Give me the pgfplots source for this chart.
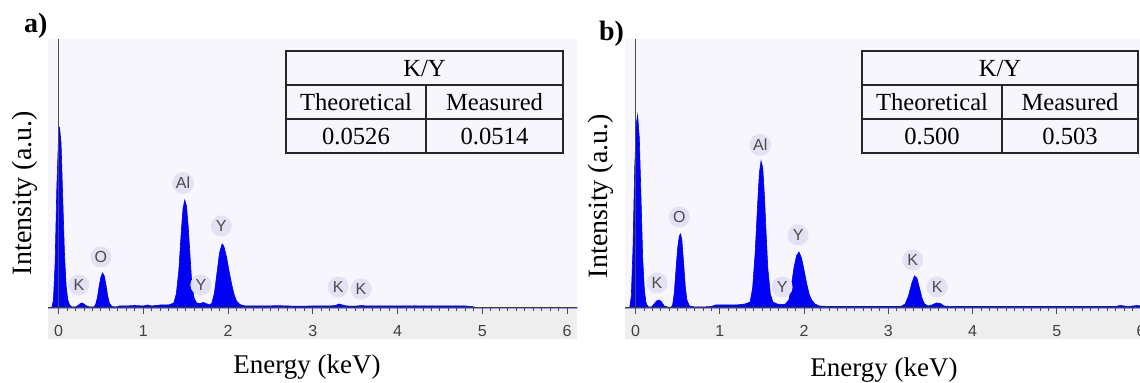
\documentclass[border=0pt]{standalone}
\usepackage{pgfplots}
\pgfplotsset{compat=1.18}
\usepackage{fontspec}
\setmainfont{Liberation Serif}
\newfontfamily\sansf{Liberation Sans}
\definecolor{bgcol}{RGB}{246,246,252}
\definecolor{stripcol}{RGB}{238,238,238}
\definecolor{specblue}{RGB}{0,0,245}
\definecolor{lblbg}{RGB}{226,226,244}
\definecolor{lbltext}{RGB}{75,75,75}

\pgfplotstableread{
x y
-0.124 0
-0.08 0
-0.06 8
-0.04 45
-0.02 120
0.00 170
0.012 181
0.03 165
0.05 110
0.07 55
0.09 22
0.11 8
0.13 3
0.16 1
0.20 1
0.23 2.5
0.26 4.5
0.28 5
0.30 4
0.33 2
0.37 1
0.42 1
0.44 4
0.46 11
0.48 22
0.50 31
0.52 35
0.54 32
0.56 23
0.58 12
0.60 5
0.63 1.5
0.68 1
0.72 2
0.80 2
0.90 2.5
1.00 2
1.05 3
1.10 2
1.20 3
1.30 3
1.36 5
1.39 14
1.42 38
1.45 78
1.47 100
1.49 108
1.51 102
1.53 82
1.55 55
1.57 28
1.60 10
1.63 5
1.67 4.5
1.71 5.5
1.74 4.5
1.78 3
1.81 5
1.84 15
1.87 35
1.90 55
1.93 64
1.95 62
1.98 52
2.01 38
2.04 25
2.07 14
2.10 7
2.14 3.5
2.20 2
2.40 2
2.60 2.3
2.80 1.8
3.00 2
3.20 2
3.27 2.5
3.31 4
3.35 3
3.40 2
3.50 1.8
3.58 2.5
3.62 2
3.80 2
4.00 2
4.20 2.2
4.40 2
4.60 2
4.80 2
4.88 1.5
4.92 0.5
6.118 0.5
}\specA

\pgfplotstableread{
x y
-0.125 0
-0.07 0
-0.05 12
-0.03 60
-0.01 140
0.01 185
0.025 193
0.045 170
0.065 110
0.085 50
0.105 18
0.125 5
0.15 1
0.19 1
0.22 4
0.25 7
0.28 8
0.31 6
0.34 2
0.38 1
0.42 0.5
0.44 3
0.46 15
0.48 38
0.50 60
0.52 72
0.535 74
0.55 68
0.57 46
0.59 22
0.61 8
0.64 2
0.70 1
0.80 1
0.90 1.5
0.95 3
1.20 3
1.30 4
1.36 6
1.39 20
1.42 55
1.45 105
1.47 135
1.49 147
1.51 140
1.53 112
1.55 75
1.57 40
1.60 14
1.63 6
1.68 4
1.74 3.5
1.78 4
1.82 8
1.85 22
1.88 40
1.91 52
1.94 56
1.97 50
2.00 38
2.03 25
2.06 14
2.09 8
2.13 4
2.18 2
2.30 1.5
2.60 1.5
3.00 1.5
3.15 1.5
3.20 4
3.24 12
3.28 25
3.31 32
3.34 30
3.37 20
3.40 10
3.43 4
3.47 2
3.52 3
3.57 5
3.62 4.5
3.66 2
3.75 1.5
4.50 1.5
5.50 1.5
5.70 1.5
5.75 2.5
5.85 1.5
5.95 2.5
6.0 2
}\specB

\tikzset{pk/.style={circle, fill=lblbg, inner sep=0.6pt, minimum size=10.5pt, font=\sansf\fontsize{8}{9}\selectfont, text=lbltext}}

\pgfplotsset{eds/.style={
  scale only axis, height=134.5pt,
  ymin=0, ymax=269,
  axis x line*=bottom, axis y line=none,
  axis line style={draw=black!75, line width=0.5pt},
  axis background/.style={fill=bgcol},
  xtick={0,1,2,3,4,5,6}, minor x tick num=9,
  tick align=outside, major tick length=3pt, minor tick length=1.6pt,
  every tick/.style={draw=black!70, line width=0.4pt},
  xticklabel style={font=\sansf\fontsize{8}{9}\selectfont, text=black!75, yshift=-2pt},
  /pgf/number format/assume math mode=true,
  clip=false, axis on top,
  anchor=south west,
}}

\begin{document}
\begin{tikzpicture}
\useasboundingbox (0,0) rectangle (570pt,191.5pt);

% ---------- panel a ----------
\begin{axis}[eds, at={(24pt,37.5pt)}, width=264.5pt, xmin=-0.124, xmax=6.118]
\fill[stripcol] (rel axis cs:0,0) rectangle ([yshift=-15.5pt]rel axis cs:1,0);
\addplot[draw=specblue, fill=specblue, line width=0.3pt] table[x=x,y=y] {\specA} \closedcycle;
\addplot[draw=black!70, line width=0.5pt] coordinates {(0,0) (0,269)};
\node[pk] at (axis cs:0.24,23) {K};
\node[pk] at (axis cs:0.50,51) {O};
\node[pk] at (axis cs:1.47,125) {Al};
\node[pk] at (axis cs:1.68,23) {Y};
\node[pk] at (axis cs:1.92,82) {Y};
\node[pk] at (axis cs:3.30,21) {K};
\node[pk] at (axis cs:3.57,19) {K};
\end{axis}

% ---------- panel b ----------
\begin{axis}[eds, at={(312.5pt,37.5pt)}, width=258pt, xmin=-0.125, xmax=6.0]
\fill[stripcol] (rel axis cs:0,0) rectangle ([yshift=-15.5pt]rel axis cs:1,0);
\addplot[draw=specblue, fill=specblue, line width=0.3pt] table[x=x,y=y] {\specB} \closedcycle;
\addplot[draw=black!70, line width=0.5pt] coordinates {(0,0) (0,269)};
\node[pk] at (axis cs:0.255,25) {K};
\node[pk] at (axis cs:0.52,91) {O};
\node[pk] at (axis cs:1.48,163) {Al};
\node[pk] at (axis cs:1.74,21) {Y};
\node[pk] at (axis cs:1.93,73) {Y};
\node[pk] at (axis cs:3.29,48) {K};
\node[pk] at (axis cs:3.58,21) {K};
\end{axis}

% ---------- annotations in pixel coordinates ----------
\begin{scope}[shift={(0pt,191.5pt)}, x=0.5pt, y=-0.5pt]
\node[anchor=base west, font=\bfseries\fontsize{14}{16}\selectfont] at (17,33) {a)};
\node[anchor=base west, font=\bfseries\fontsize{14}{16}\selectfont] at (592,41) {b)};
\node[anchor=base, font=\fontsize{13.5}{15}\selectfont] at (307,374) {Energy (keV)};
\node[anchor=base, font=\fontsize{13.5}{15}\selectfont] at (884,377) {Energy (keV)};
\node[rotate=90, font=\fontsize{14}{16}\selectfont] at (25,193) {Intensity (a.u.)};
\node[rotate=90, font=\fontsize{14}{16}\selectfont] at (601,196) {Intensity (a.u.)};
% table a
\draw[line width=0.9pt, draw=black!85, fill=bgcol] (286,51) rectangle (563,153);
\draw[line width=0.8pt, draw=black!85] (286,85)--(563,85) (286,119)--(563,119) (426,85)--(426,153);
\node[anchor=base, font=\fontsize{12.3}{14}\selectfont] at (424.5,77) {K/Y};
\node[anchor=base, font=\fontsize{12.3}{14}\selectfont] at (356,111) {Theoretical};
\node[anchor=base, font=\fontsize{12.3}{14}\selectfont] at (494.5,111) {Measured};
\node[anchor=base, font=\fontsize{12.3}{14}\selectfont] at (356,145) {0.0526};
\node[anchor=base, font=\fontsize{12.3}{14}\selectfont] at (494.5,145) {0.0514};
% table b
\draw[line width=0.9pt, draw=black!85, fill=bgcol] (862,51) rectangle (1138,153);
\draw[line width=0.8pt, draw=black!85] (862,85)--(1138,85) (862,119)--(1138,119) (1002,85)--(1002,153);
\node[anchor=base, font=\fontsize{12.3}{14}\selectfont] at (1000,77) {K/Y};
\node[anchor=base, font=\fontsize{12.3}{14}\selectfont] at (932,111) {Theoretical};
\node[anchor=base, font=\fontsize{12.3}{14}\selectfont] at (1070,111) {Measured};
\node[anchor=base, font=\fontsize{12.3}{14}\selectfont] at (932,145) {0.500};
\node[anchor=base, font=\fontsize{12.3}{14}\selectfont] at (1070,145) {0.503};
\end{scope}
\end{tikzpicture}
\end{document}
